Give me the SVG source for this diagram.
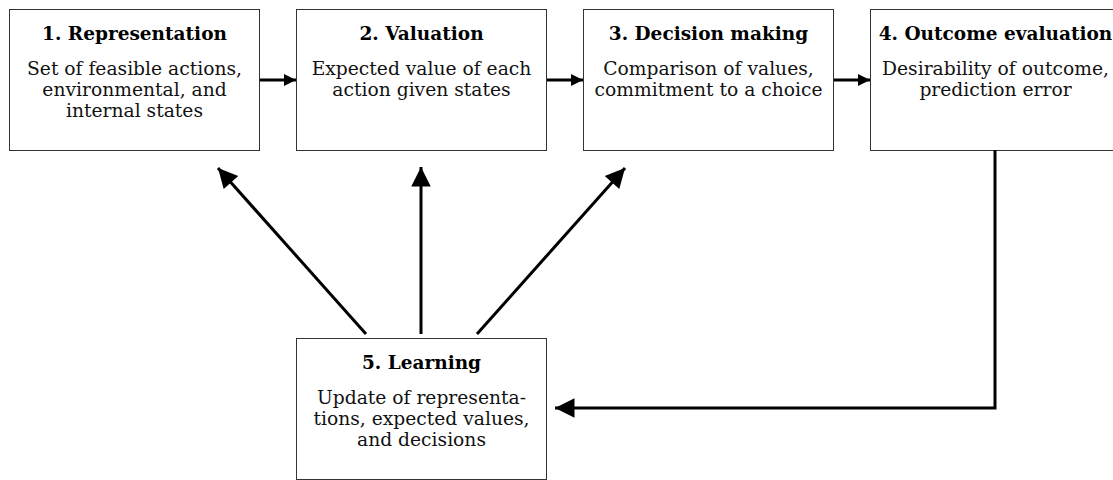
<svg xmlns="http://www.w3.org/2000/svg" width="1113" height="480" viewBox="0 0 1113 480">
  <defs>
    <marker id="head-s" viewBox="0 0 10 10" refX="10" refY="5" markerWidth="5.5" markerHeight="4" orient="auto" markerUnits="strokeWidth">
      <path d="M0,0 L10,5 L0,10 z" fill="#000"/>
    </marker>
    <marker id="head-l" viewBox="0 0 10 10" refX="10" refY="5" markerWidth="8" markerHeight="6.5" orient="auto" markerUnits="strokeWidth">
      <path d="M0,0 L10,5 L0,10 z" fill="#000"/>
    </marker>
    <style>
      .box { fill: #fff; stroke: #333; stroke-width: 1; }
      .title { font-family: "DejaVu Serif", serif; font-size: 18.5px; font-weight: bold; text-anchor: middle; fill: #000; }
      .body { font-family: "DejaVu Serif", serif; font-size: 18.7px; text-anchor: middle; fill: #111; }
      .link { fill: none; stroke: #000; stroke-width: 3; }
    </style>
  </defs>

  <g id="node-representation">
    <rect class="box" x="9.5" y="9.5" width="250" height="141"/>
    <text class="title" x="134.5" y="40">1. Representation</text>
    <text class="body" x="134.5" y="75">Set of feasible actions,</text>
    <text class="body" x="134.5" y="96">environmental, and</text>
    <text class="body" x="134.5" y="117">internal states</text>
  </g>

  <g id="node-valuation">
    <rect class="box" x="296.5" y="9.5" width="250" height="141"/>
    <text class="title" x="421.5" y="40">2. Valuation</text>
    <text class="body" x="421.5" y="75">Expected value of each</text>
    <text class="body" x="421.5" y="96">action given states</text>
  </g>

  <g id="node-decision">
    <rect class="box" x="583.5" y="9.5" width="250" height="141"/>
    <text class="title" x="708.5" y="40">3. Decision making</text>
    <text class="body" x="708.5" y="75">Comparison of values,</text>
    <text class="body" x="708.5" y="96">commitment to a choice</text>
  </g>

  <g id="node-outcome">
    <rect class="box" x="870.5" y="9.5" width="250" height="141"/>
    <text class="title" x="995.5" y="40">4. Outcome evaluation</text>
    <text class="body" x="995.5" y="75">Desirability of outcome,</text>
    <text class="body" x="995.5" y="96">prediction error</text>
  </g>

  <g id="node-learning">
    <rect class="box" x="296.5" y="338.5" width="250" height="141"/>
    <text class="title" x="421.5" y="369">5. Learning</text>
    <text class="body" x="421.5" y="404">Update of representa-</text>
    <text class="body" x="421.5" y="425">tions, expected values,</text>
    <text class="body" x="421.5" y="446">and decisions</text>
  </g>

  <g id="connectors">
    <line class="link" x1="260" y1="80" x2="296" y2="80" marker-end="url(#head-s)"/>
    <line class="link" x1="547" y1="80" x2="583" y2="80" marker-end="url(#head-s)"/>
    <line class="link" x1="834" y1="80" x2="870" y2="80" marker-end="url(#head-s)"/>
    <line class="link" x1="366" y1="334" x2="218" y2="168" marker-end="url(#head-l)"/>
    <line class="link" x1="421" y1="334" x2="421" y2="167" marker-end="url(#head-l)"/>
    <line class="link" x1="477" y1="334" x2="625" y2="168" marker-end="url(#head-l)"/>
    <polyline class="link" points="995,150 995,408 555,408" marker-end="url(#head-l)"/>
  </g>
</svg>
